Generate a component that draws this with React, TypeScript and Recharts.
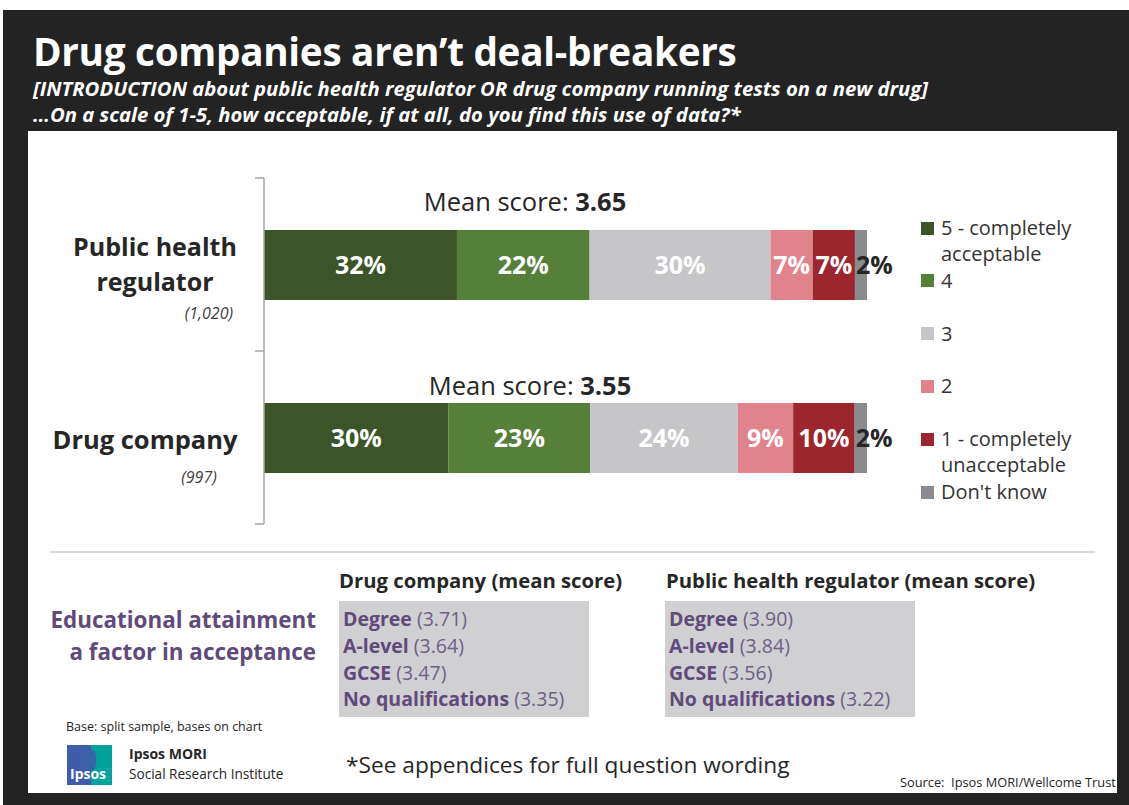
import React from "react";
import { BarChart, Bar, XAxis, YAxis, LabelList, Legend } from "recharts";

const FONT = "'Open Sans', 'Noto Sans', sans-serif";

const categories = ["Public health regulator", "Drug company"];
const categoryLines = [["Public health", "regulator"], ["Drug company"]];
const sampleBases = ["(1,020)", "(997)"];
const meanScores = ["3.65", "3.55"];

const score5 = [32, 30];
const score4 = [22, 23];
const score3 = [30, 24];
const score2 = [7, 9];
const score1 = [7, 10];
const dontKnow = [2, 2];

const seriesKeys = ["s5", "s4", "s3", "s2", "s1", "dk"];
const seriesNames = [
  "5 - completely acceptable",
  "4",
  "3",
  "2",
  "1 - completely unacceptable",
  "Don't know",
];
const seriesColors = ["#3B5529", "#55803A", "#C6C6C8", "#E0838A", "#9B262E", "#898B8F"];

const eduGroups = ["Degree", "A-level", "GCSE", "No qualifications"];
const drugCompanyEdu = ["3.71", "3.64", "3.47", "3.35"];
const regulatorEdu = ["3.90", "3.84", "3.56", "3.22"];

const data = categories.map((c, i) => ({
  category: c,
  mean: meanScores[i],
  s5: score5[i],
  s4: score4[i],
  s3: score3[i],
  s2: score2[i],
  s1: score1[i],
  dk: dontKnow[i],
}));

const CHART_TOP = 130;
const PLOT_TOP = 48;
const PLOT_BOTTOM = 394;
const HALF_BAND = (PLOT_BOTTOM - PLOT_TOP) / categories.length / 2;

const CategoryTick = (props: any) => {
  const { y, payload } = props;
  const idx = payload.index;
  const lines = categoryLines[idx] || [payload.value];
  const tickLines = [
    <line key="t0" x1={255} x2={264} y1={y - HALF_BAND} y2={y - HALF_BAND} stroke="#A6A6A6" strokeWidth={1.5} />,
  ];
  if (idx === categories.length - 1) {
    tickLines.push(
      <line key="t1" x1={255} x2={264} y1={y + HALF_BAND} y2={y + HALF_BAND} stroke="#A6A6A6" strokeWidth={1.5} />
    );
  }
  if (idx === 0) {
    return (
      <g>
        {tickLines}
        <text x={155} y={y - 17.5 + 9} textAnchor="middle" fontFamily={FONT} fontWeight={700} fontSize={25} fill="#262626">
          {lines[0]}
        </text>
        <text x={155} y={y + 17.5 + 9} textAnchor="middle" fontFamily={FONT} fontWeight={700} fontSize={25} fill="#262626">
          {lines[1]}
        </text>
        <text x={233} y={y + 48.5 + 6} textAnchor="end" fontFamily={FONT} fontStyle="italic" fontSize={16} fill="#404040">
          {sampleBases[idx]}
        </text>
      </g>
    );
  }
  return (
    <g>
      {tickLines}
      <text x={145} y={y + 2.5 + 9} textAnchor="middle" fontFamily={FONT} fontWeight={700} fontSize={25.5} fill="#262626">
        {lines[0]}
      </text>
      <text x={199} y={y + 39.5 + 6} textAnchor="middle" fontFamily={FONT} fontStyle="italic" fontSize={16} fill="#404040">
        {sampleBases[idx]}
      </text>
    </g>
  );
};

const makeSegmentLabel = (isDk: boolean) => (props: any) => {
  const { x, y, width, height, value } = props;
  if (value === undefined || value === null) return null;
  const cx = isDk ? x + 1 : x + width / 2;
  return (
    <text
      x={cx}
      y={y + height / 2 + 9}
      textAnchor={isDk ? "start" : "middle"}
      fontFamily={FONT}
      fontWeight={700}
      fontSize={25}
      fill={isDk ? "#262626" : "#FFFFFF"}
    >
      {value}%
    </text>
  );
};

const meanOffsets = [28, 17];
const meanCenters = [525, 530];

const MeanLabel = (props: any) => {
  const { y, value, index } = props;
  return (
    <text
      x={meanCenters[index]}
      y={y - meanOffsets[index] + 9}
      textAnchor="middle"
      fontFamily={FONT}
      fontSize={25.5}
      fill="#262626"
    >
      Mean score: <tspan fontWeight={700}>{value}</tspan>
    </text>
  );
};

const LegendContent = (props: any) => {
  const payload = [...(props.payload || [])].sort(
    (a: any, b: any) => seriesNames.indexOf(a.value) - seriesNames.indexOf(b.value)
  );
  return (
    <div style={{ position: "relative", height: 0, width: 0 }}>
      {payload.map((item: any, i: number) => (
        <div
          key={i}
          style={{
            position: "absolute",
            left: 921,
            top: 85 + i * 52.8,
            width: 200,
            fontFamily: FONT,
            fontSize: 20,
            lineHeight: "26px",
            color: "#333333",
            textAlign: "left",
          }}
        >
          <span
            style={{
              position: "absolute",
              left: 0,
              top: 6.5,
              width: 13,
              height: 13,
              background: item.color,
            }}
          />
          <div style={{ marginLeft: 20, width: 160 }}>{item.value}</div>
        </div>
      ))}
    </div>
  );
};

const abs = (left: number, top: number, extra: React.CSSProperties = {}): React.CSSProperties => ({
  position: "absolute",
  left,
  top,
  whiteSpace: "nowrap",
  ...extra,
});

export default function App() {
  return (
    <div
      style={{
        position: "absolute",
        left: 0,
        top: 0,
        width: 1129,
        height: 805,
        background: "#FFFFFF",
        overflow: "hidden",
        fontFamily: FONT,
      }}
    >
      <div style={{ position: "absolute", left: 3, top: 10, width: 1126, height: 795, background: "#232323" }} />
      <div style={{ position: "absolute", left: 28, top: 131, width: 1089, height: 662, background: "#FFFFFF" }} />

      <div style={abs(33, 27, { color: "#FFFFFF", fontSize: 38.7, fontWeight: 700, lineHeight: "48px", letterSpacing: -0.3 })}>
        Drug companies aren’t deal-breakers
      </div>
      <div style={abs(33, 74, { color: "#FFFFFF", fontSize: 20.3, fontWeight: 700, fontStyle: "italic", lineHeight: "28px" })}>
        [INTRODUCTION about public health regulator OR drug company running tests on a new drug]
      </div>
      <div style={abs(33, 100, { color: "#FFFFFF", fontSize: 20.3, fontWeight: 700, fontStyle: "italic", lineHeight: "28px" })}>
        …On a scale of 1-5, how acceptable, if at all, do you find this use of data?*
      </div>

      <div style={{ position: "absolute", left: 0, top: CHART_TOP }}>
        <BarChart
          width={1129}
          height={420}
          data={data}
          layout="vertical"
          stackOffset="expand"
          margin={{ top: PLOT_TOP, right: 262, bottom: 420 - PLOT_BOTTOM, left: 0 }}
          barCategoryGap={0}
        >
          <XAxis type="number" hide domain={[0, 1]} />
          <YAxis
            type="category"
            dataKey="category"
            width={264}
            axisLine={{ stroke: "#A6A6A6", strokeWidth: 1.5 }}
            tickLine={false}
            tick={<CategoryTick />}
            interval={0}
          />
          <Legend
            layout="horizontal"
            verticalAlign="top"
            align="left"
            content={<LegendContent />}
            wrapperStyle={{ position: "absolute", left: 0, top: 0, width: 0, height: 0 }}
          />
          {seriesKeys.map((k, i) => (
            <Bar
              key={k}
              dataKey={k}
              name={seriesNames[i]}
              stackId="a"
              fill={seriesColors[i]}
              barSize={70}
              isAnimationActive={false}
            >
              <LabelList dataKey={k} content={makeSegmentLabel(k === "dk")} />
              {i === 0 ? <LabelList dataKey="mean" content={<MeanLabel />} /> : null}
            </Bar>
          ))}
        </BarChart>
      </div>

      <div style={{ position: "absolute", left: 50, top: 551, width: 1045, height: 2, background: "#D9D9D9" }} />

      <div style={abs(0, 604, { width: 316, textAlign: "right", color: "#604A7B", fontSize: 22.4, fontWeight: 700, lineHeight: "32px" })}>
        Educational attainment
        <br />a factor in acceptance
      </div>

      <div style={abs(339, 566, { color: "#262626", fontSize: 20.3, fontWeight: 700, lineHeight: "28px" })}>
        Drug company (mean score)
      </div>
      <div style={abs(666, 566, { color: "#262626", fontSize: 20.3, fontWeight: 700, lineHeight: "28px" })}>
        Public health regulator (mean score)
      </div>

      {[{ left: 339, vals: drugCompanyEdu }, { left: 665, vals: regulatorEdu }].map((box, b) => (
        <div
          key={b}
          style={{
            position: "absolute",
            left: box.left,
            top: 601,
            width: 250,
            height: 116,
            background: "#D0CFD2",
          }}
        >
          {eduGroups.map((g, i) => (
            <div
              key={g}
              style={abs(4, 5 + i * 26.8, { fontSize: 19.5, lineHeight: "26px", color: "#604A7B" })}
            >
              <span style={{ fontWeight: 700 }}>{g}</span>
              <span style={{ color: "#6E5F88" }}> ({box.vals[i]})</span>
            </div>
          ))}
        </div>
      ))}

      <div style={abs(66, 718, { fontSize: 12.5, lineHeight: "18px", color: "#262626" })}>
        Base: split sample, bases on chart
      </div>

      <div style={{ position: "absolute", left: 67, top: 745, width: 45, height: 40, overflow: "hidden" }}>
        <div style={{ position: "absolute", left: 0, top: 0, width: 24, height: 40, background: "#3F5DAA" }} />
        <div style={{ position: "absolute", left: 24, top: 0, width: 21, height: 40, background: "#00A39D" }} />
        <div style={{ position: "absolute", left: 16, top: 4, width: 13, height: 22, borderRadius: 7, background: "#3A62A8" }} />
        <div style={abs(3, 19, { fontSize: 14, lineHeight: "20px", color: "#FFFFFF", fontWeight: 700 })}>Ipsos</div>
      </div>
      <div style={abs(129, 745, { fontSize: 14, fontWeight: 700, lineHeight: "18px", color: "#262626" })}>Ipsos MORI</div>
      <div style={abs(129, 765, { fontSize: 13.6, lineHeight: "18px", color: "#262626" })}>Social Research Institute</div>

      <div style={abs(346, 749, { fontSize: 22.7, lineHeight: "32px", color: "#262626" })}>
        *See appendices for full question wording
      </div>
      <div style={abs(900, 773, { fontSize: 12.8, lineHeight: "18px", color: "#262626" })}>
        Source:&nbsp; Ipsos MORI/Wellcome Trust
      </div>
    </div>
  );
}
